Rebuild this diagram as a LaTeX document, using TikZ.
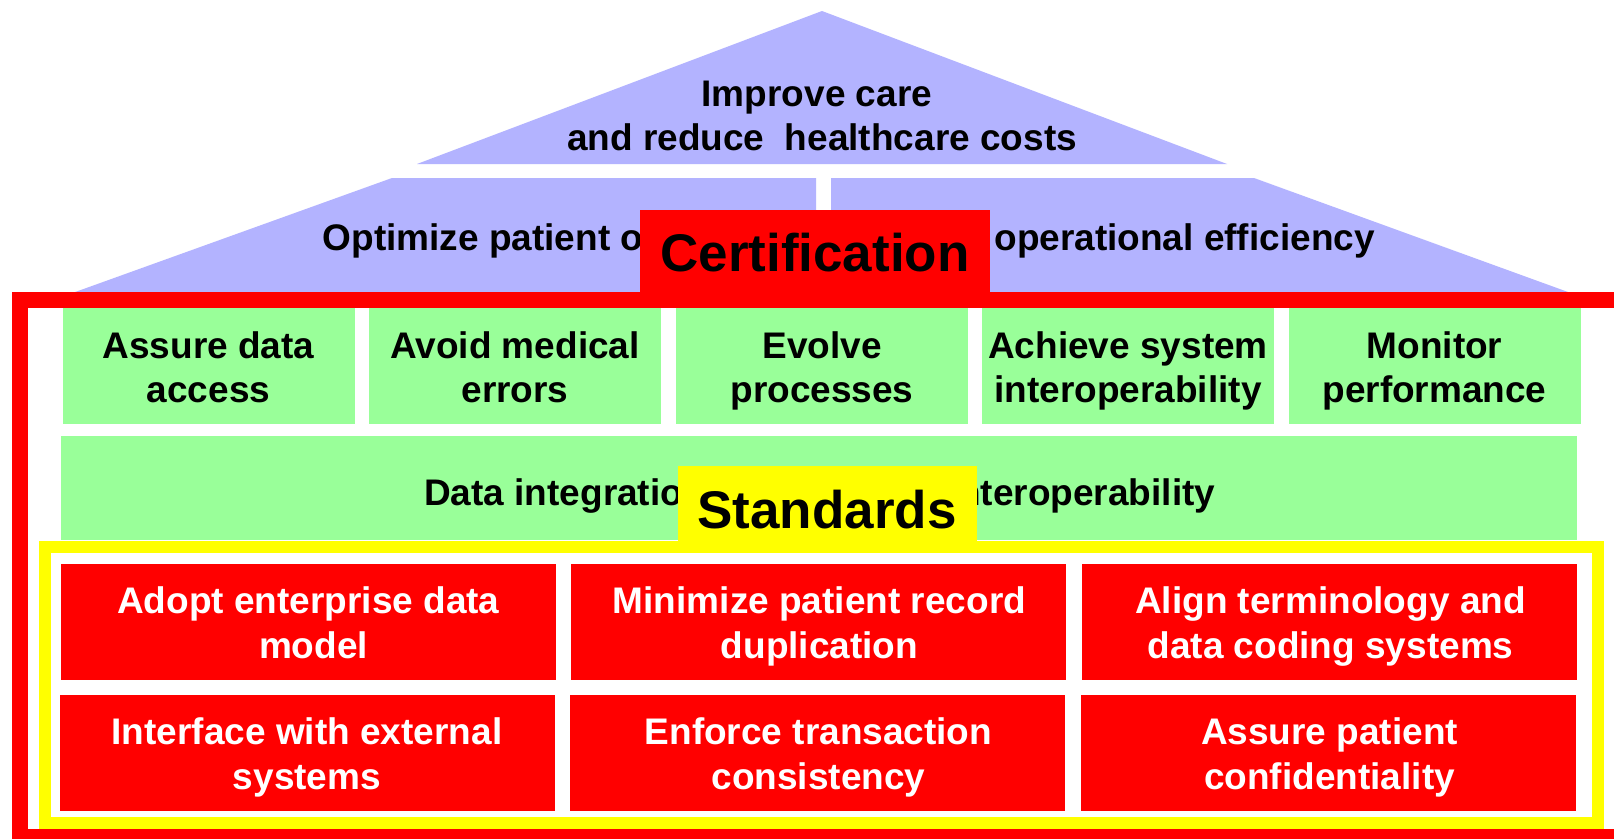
\documentclass[tikz,border=0pt]{standalone}
\usepackage{fontspec}
\setmainfont{Liberation Sans}
\definecolor{lav}{RGB}{179,179,255}
\definecolor{grn}{RGB}{153,255,153}
\definecolor{yel}{RGB}{255,255,0}
\definecolor{rd}{RGB}{255,0,0}
\tikzset{
  gbox/.style={rectangle, fill=grn, draw=none, minimum width=292pt, minimum height=116pt, inner sep=0pt},
  rbox/.style={rectangle, fill=rd, draw=none, minimum width=495pt, minimum height=116pt, inner sep=0pt},
  btxt/.style={font=\fontsize{37}{44.5}\selectfont\bfseries, align=center, inner sep=0pt, text=black},
  wtxt/.style={font=\fontsize{37}{45.5}\selectfont\bfseries, align=center, inner sep=0pt, text=white},
  ltxt/.style={font=\fontsize{37}{44}\selectfont\bfseries, inner sep=0pt, text=black},
  bigtxt/.style={font=\fontsize{53}{60}\selectfont\bfseries, inner sep=0pt, text=black}
}
\begin{document}
\begin{tikzpicture}[x=1pt,y=-1pt]
\useasboundingbox (0,0) rectangle (1614,838);
\clip (0,0) rectangle (1614,838);
\fill[white] (0,0) rectangle (1614,838);
% roof
\fill[lav] (417,164) -- (822,11) -- (1227,164) -- cycle;
\fill[lav] (392,178) -- (816,178) -- (816,300) -- (53,300) -- cycle;
\fill[lav] (831,178) -- (1254,178) -- (1590,300) -- (831,300) -- cycle;
\node[btxt] (roof) at (822,119.5) {\strut Improve care\kern10.3pt\\\strut and reduce\ \ healthcare costs};
\node[ltxt, anchor=base west] (opt) at (322.5,250) {Optimize patient o};
\node[ltxt, anchor=base east] (eff) at (1375,250) {operational efficiency};
% red frame
\draw[rd, line width=16pt] (19.5,300) rectangle (1640,837);
\fill[rd] (640,210) rectangle (990,300);
\node[bigtxt, anchor=base] (cert) at (815,271.7) {Certification};
% green row
\node[gbox] (g1) at (208.5,366) {};
\node[gbox] (g2) at (515,366) {};
\node[gbox] (g3) at (822,366) {};
\node[gbox] (g4) at (1128,366) {};
\node[gbox] (g5) at (1434.5,366) {};
\node[btxt] (t1) at (208.5,371.5) {\strut Assure data\\\strut access};
\node[btxt] (t2) at (515,371.5) {\strut Avoid medical\\\strut errors};
\node[btxt] (t3) at (822,371.5) {\strut Evolve\\\strut processes};
\node[btxt] (t4) at (1128,371.5) {\strut Achieve system\\\strut interoperability};
\node[btxt] (t5) at (1434.5,371.5) {\strut Monitor\\\strut performance};
% data integration band
\fill[grn] (61,436) rectangle (1577,540);
\node[ltxt, anchor=base west] (di) at (424,505.7) {Data integratio};
\node[ltxt, anchor=base east] (io) at (1215.5,505.7) {nteroperability};
% yellow frame
\draw[yel, line width=12pt] (45,547) rectangle (1598,823);
\fill[yel] (678,466) rectangle (977,550);
\node[bigtxt, anchor=base] (std) at (827,528.3) {Standards};
% red boxes
\node[rbox] (r1) at (308,622) {};
\node[rbox] (r2) at (818.5,622) {};
\node[rbox] (r3) at (1329.5,622) {};
\node[rbox] (r4) at (307,753) {};
\node[rbox] (r5) at (817.5,753) {};
\node[rbox] (r6) at (1328.5,753) {};
\node[wtxt] (s1) at (313.5,627) {\strut Adopt enterprise data\kern10.3pt\\\strut model};
\node[wtxt] (s2) at (819.5,627) {\strut Minimize patient record\\\strut duplication};
\node[wtxt] (s3) at (1330.5,627) {\strut Align terminology and\\\strut data coding systems};
\node[wtxt] (s4) at (307,758) {\strut Interface with external\\\strut systems};
\node[wtxt] (s5) at (818.5,758) {\strut Enforce transaction\\\strut consistency};
\node[wtxt] (s6) at (1329.5,758) {\strut Assure patient\\\strut confidentiality};
\end{tikzpicture}
\end{document}
